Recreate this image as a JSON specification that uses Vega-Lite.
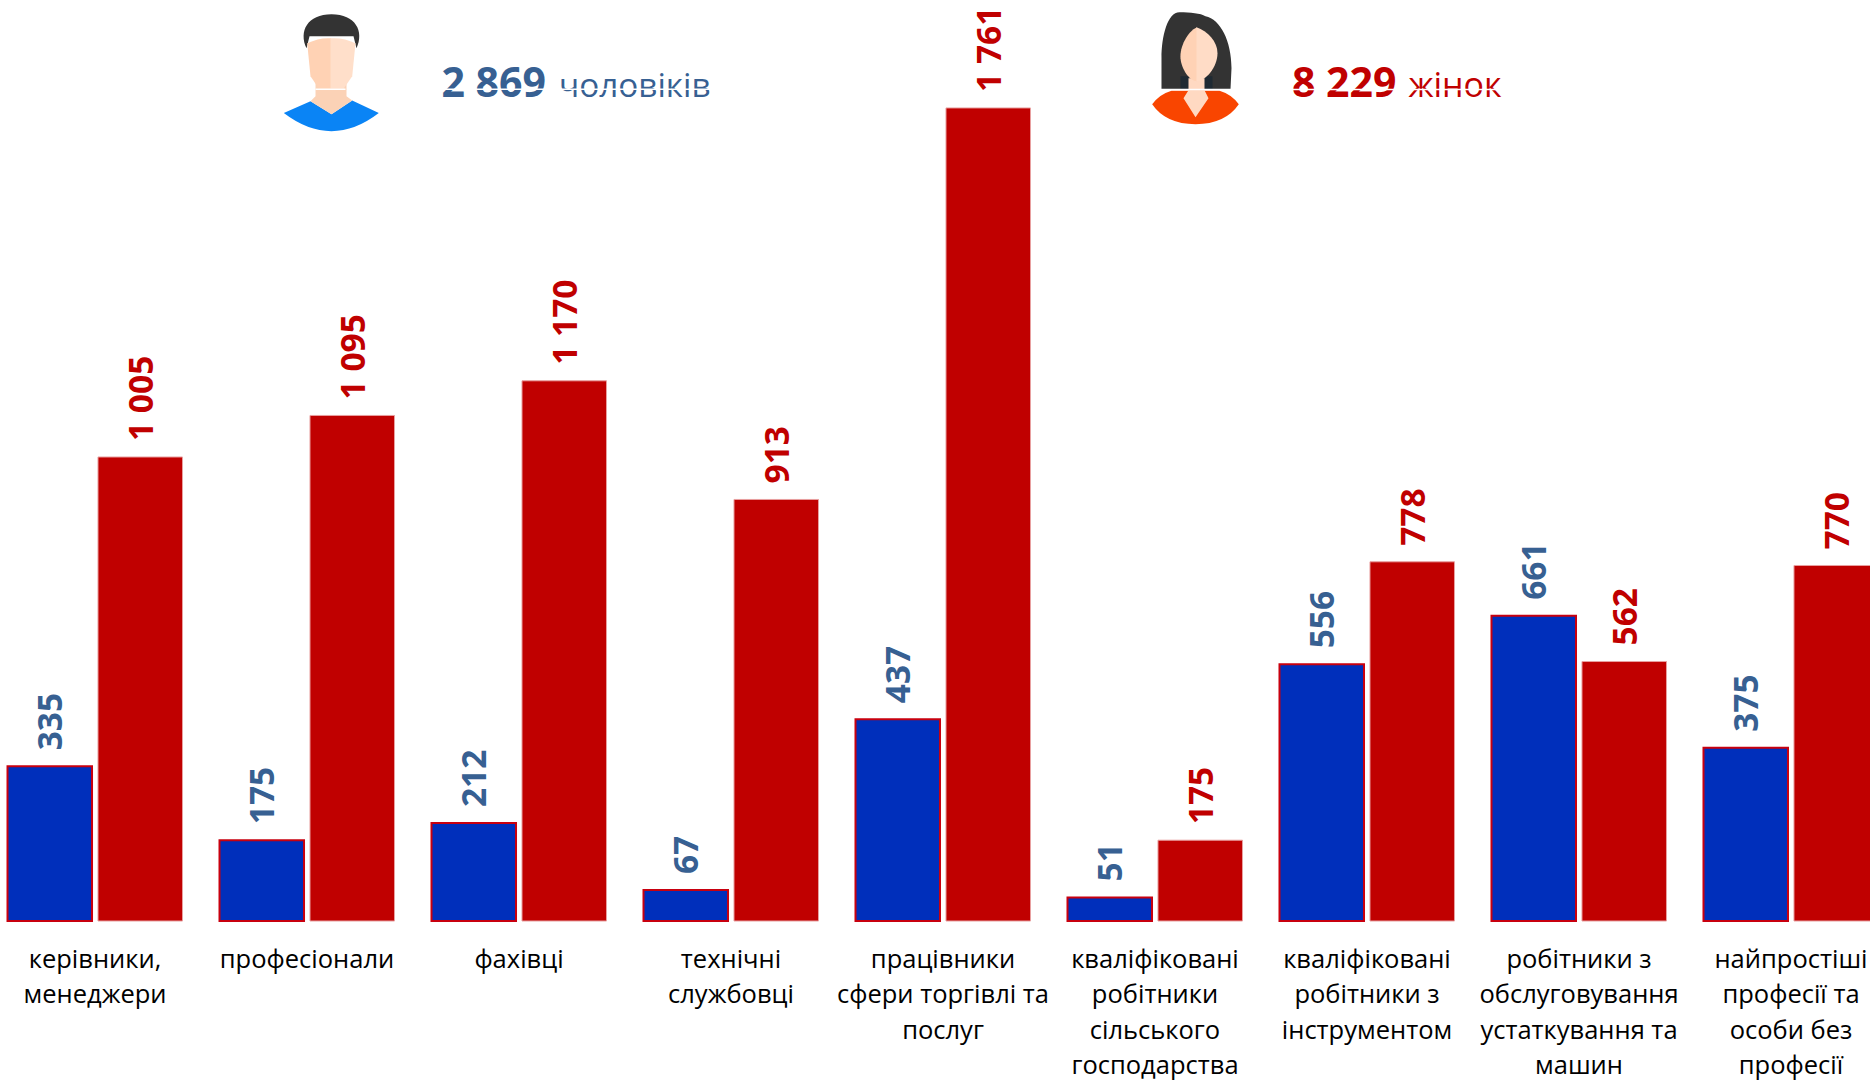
{
"$schema":"https://vega.github.io/schema/vega-lite/v6.json",
"width":1870,"height":921,
"autosize":{"type":"none"},
"padding":{"left":0,"top":0,"right":0,"bottom":159},
"background":"white",
"config":{"view":{"stroke":null},"font":"Open Sans"},
"datasets":{
"bars":[
{"occupation":"керівники,|менеджери","sex":"чоловіки","value":335,"label":"335"},
{"occupation":"керівники,|менеджери","sex":"жінки","value":1005,"label":"1 005"},
{"occupation":"професіонали","sex":"чоловіки","value":175,"label":"175"},
{"occupation":"професіонали","sex":"жінки","value":1095,"label":"1 095"},
{"occupation":"фахівці","sex":"чоловіки","value":212,"label":"212"},
{"occupation":"фахівці","sex":"жінки","value":1170,"label":"1 170"},
{"occupation":"технічні|службовці","sex":"чоловіки","value":67,"label":"67"},
{"occupation":"технічні|службовці","sex":"жінки","value":913,"label":"913"},
{"occupation":"працівники|сфери торгівлі та|послуг","sex":"чоловіки","value":437,"label":"437"},
{"occupation":"працівники|сфери торгівлі та|послуг","sex":"жінки","value":1761,"label":"1 761"},
{"occupation":"кваліфіковані|робітники|сільського|господарства","sex":"чоловіки","value":51,"label":"51"},
{"occupation":"кваліфіковані|робітники|сільського|господарства","sex":"жінки","value":175,"label":"175"},
{"occupation":"кваліфіковані|робітники з|інструментом","sex":"чоловіки","value":556,"label":"556"},
{"occupation":"кваліфіковані|робітники з|інструментом","sex":"жінки","value":778,"label":"778"},
{"occupation":"робітники з|обслуговування|устаткування та|машин","sex":"чоловіки","value":661,"label":"661"},
{"occupation":"робітники з|обслуговування|устаткування та|машин","sex":"жінки","value":562,"label":"562"},
{"occupation":"найпростіші|професії та|особи без|професії","sex":"чоловіки","value":375,"label":"375"},
{"occupation":"найпростіші|професії та|особи без|професії","sex":"жінки","value":770,"label":"770"}
],
"man":[{"occupation":"професіонали","total":"2 869","unit":"чоловіків"}],
"woman":[{"occupation":"кваліфіковані|робітники|сільського|господарства","total":"8 229","unit":"жінок"}]
},
"encoding":{
"x":{"field":"occupation","type":"nominal","sort":null,"title":null,
"scale":{"range":[-11,1897],"paddingInner":0.1745,"paddingOuter":0.0873},
"axis":{"orient":"bottom","ticks":false,"domain":false,"labelAngle":0,"labelPadding":26,"labelFont":"Open Sans","labelFontSize":25.5,"labelLineHeight":35.5,"labelColor":"#000000","labelLimit":0,"labelOverlap":false,"labelExpr":"split(datum.label,'|')"}}
},
"layer":[
{"data":{"name":"bars"},"mark":{"type":"bar"},
"encoding":{
"xOffset":{"field":"sex","type":"nominal","sort":["чоловіки","жінки"],"scale":{"paddingInner":0.066}},
"y":{"field":"value","type":"quantitative","title":null,"scale":{"domain":[0,1994.8],"nice":false,"zero":true},"axis":null},
"fill":{"field":"sex","type":"nominal","scale":{"domain":["чоловіки","жінки"],"range":["#002FBB","#C00000"]},"legend":null},
"stroke":{"field":"sex","type":"nominal","scale":{"domain":["чоловіки","жінки"],"range":["#C8000F","#E8A0A0"]},"legend":null},
"strokeWidth":{"field":"sex","type":"nominal","scale":{"domain":["чоловіки","жінки"],"range":[2,1]},"legend":null}
}},
{"data":{"name":"bars"},"mark":{"type":"text","angle":270,"align":"left","baseline":"middle","dx":16,"dy":2.5,"font":"Open Sans","fontWeight":"bold","fontSize":33.5},
"encoding":{
"xOffset":{"field":"sex","type":"nominal","sort":["чоловіки","жінки"],"scale":{"paddingInner":0.066}},
"y":{"field":"value","type":"quantitative"},
"text":{"field":"label"},
"color":{"field":"sex","type":"nominal","scale":{"domain":["чоловіки","жінки"],"range":["#376092","#C00000"]},"legend":null}
}},
{"data":{"name":"man"},"mark":{"type":"text","align":"left","baseline":"alphabetic","xOffset":134.5,"font":"Open Sans","fontWeight":"bold","fontSize":41,"color":"#376092"},
"encoding":{"y":{"datum":1785},"text":{"field":"total"}}},
{"data":{"name":"man"},"mark":{"type":"text","align":"left","baseline":"alphabetic","xOffset":252,"font":"Open Sans","fontSize":33.3,"color":"#376092"},
"encoding":{"y":{"datum":1785},"text":{"field":"unit"}}},
{"data":{"name":"woman"},"mark":{"type":"text","align":"left","baseline":"alphabetic","xOffset":137,"font":"Open Sans","fontWeight":"bold","fontSize":41,"color":"#C00000"},
"encoding":{"y":{"datum":1785},"text":{"field":"total"}}},
{"data":{"name":"woman"},"mark":{"type":"text","align":"left","baseline":"alphabetic","xOffset":253.5,"font":"Open Sans","fontSize":34,"color":"#C00000"},
"encoding":{"y":{"datum":1785},"text":{"field":"unit"}}},
{"data":{"name":"man"},"mark":{"type":"point","filled":true,"opacity":1,"size":4,"strokeWidth":0,"xOffset":24.5,"fill":"#0A84F5","shape":"M-47.7 51.7L-21 40L0 53L20.7 39.3L47.3 51.7Q0 88 -47.7 51.7Z"},"encoding":{"y":{"datum":1862}}},
{"data":{"name":"man"},"mark":{"type":"point","filled":true,"opacity":1,"size":4,"strokeWidth":0,"xOffset":24.5,"fill":"#FBD2B6","shape":"M-16 20L15 20L15 35L20.7 39.3L0 53L-21 40L-16 35Z"},"encoding":{"y":{"datum":1862}}},
{"data":{"name":"man"},"mark":{"type":"point","filled":true,"opacity":1,"size":4,"strokeWidth":0,"xOffset":24.5,"fill":"#333333","shape":"M-25 -13C-33 -30 -24 -47 0 -47C24 -47 33 -30 25 -13L22 -25L-22 -25Z"},"encoding":{"y":{"datum":1862}}},
{"data":{"name":"man"},"mark":{"type":"point","filled":true,"opacity":1,"size":4,"strokeWidth":0,"xOffset":24.5,"fill":"#FFD2B4","shape":"M-24.3 -18Q-12 -24 -0.5 -23L-0.5 27.3L-12.7 27.3L-21 15Z"},"encoding":{"y":{"datum":1862}}},
{"data":{"name":"man"},"mark":{"type":"point","filled":true,"opacity":1,"size":4,"strokeWidth":0,"xOffset":24.5,"fill":"#FFDFCA","shape":"M24 -18Q12 -24 -1 -23L-1 27.3L12.3 27.3L20.7 15Z"},"encoding":{"y":{"datum":1862}}},
{"data":{"name":"man"},"mark":{"type":"point","filled":true,"opacity":1,"size":4,"strokeWidth":0,"xOffset":24.5,"fill":"#FFFFFF","shape":"M-16 27.3H14V28.8H-16ZM108 27.3H382V28.8H108Z"},"encoding":{"y":{"datum":1862}}},
{"data":{"name":"woman"},"mark":{"type":"point","filled":true,"opacity":1,"size":4,"strokeWidth":0,"xOffset":40.5,"fill":"#333333","shape":"M-34 28L-34 -3C-34 -25 -28 -49 -16 -49C-5 -49 5 -48 10 -45C25 -42 36 -20 36 7L35 28Z"},"encoding":{"y":{"datum":1862}}},
{"data":{"name":"woman"},"mark":{"type":"point","filled":true,"opacity":1,"size":4,"strokeWidth":0,"xOffset":40.5,"fill":"#1F2A33","shape":"M-15 15L17 15L17 28L-15 28Z"},"encoding":{"y":{"datum":1862}}},
{"data":{"name":"woman"},"mark":{"type":"point","filled":true,"opacity":1,"size":4,"strokeWidth":0,"xOffset":40.5,"fill":"#F94500","shape":"M-43.3 43Q-36 33 -24 29.5L24 29.5Q36 33 43.3 43Q30 62.7 0 63Q-30 62.7 -43.3 43Z"},"encoding":{"y":{"datum":1862}}},
{"data":{"name":"woman"},"mark":{"type":"point","filled":true,"opacity":1,"size":4,"strokeWidth":0,"xOffset":40.5,"fill":"#FFD9C2","shape":"M-7 17L-7 29L-12 37L0 56L13 37L9 29L9 17Z"},"encoding":{"y":{"datum":1862}}},
{"data":{"name":"woman"},"mark":{"type":"point","filled":true,"opacity":1,"size":4,"strokeWidth":0,"xOffset":40.5,"fill":"#FFD2B5","shape":"M1.5 -34C-8 -30 -16 -14 -15 -3C-14 8 -6 20 1.5 20Z"},"encoding":{"y":{"datum":1862}}},
{"data":{"name":"woman"},"mark":{"type":"point","filled":true,"opacity":1,"size":4,"strokeWidth":0,"xOffset":40.5,"fill":"#FFDCC6","shape":"M1 -34C12 -30 22 -20 22 -8C22 6 10 20 1 20Z"},"encoding":{"y":{"datum":1862}}},
{"data":{"name":"woman"},"mark":{"type":"point","filled":true,"opacity":1,"size":4,"strokeWidth":0,"xOffset":40.5,"fill":"#FFFFFF","shape":"M-35 27.5H36V29H-35ZM96 27.5H308V29H96Z"},"encoding":{"y":{"datum":1862}}}
]
}
